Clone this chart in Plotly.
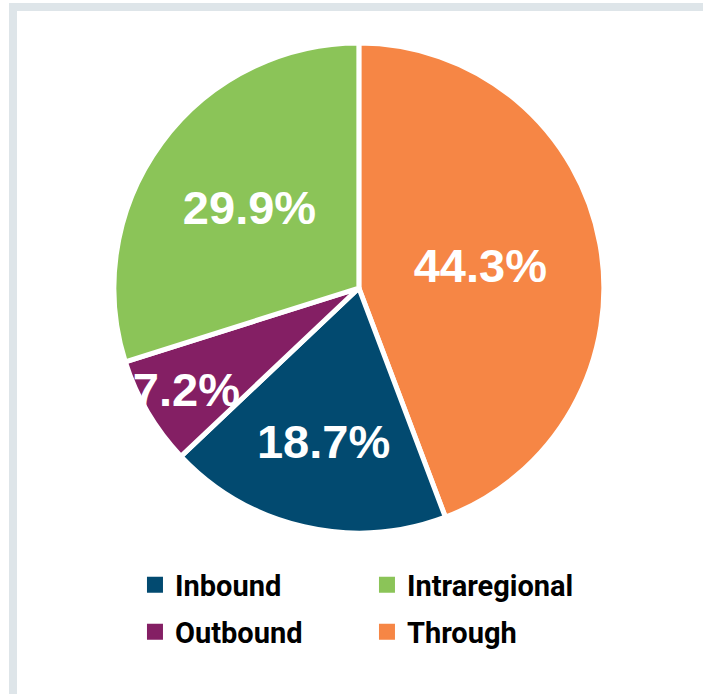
import plotly.graph_objects as go

# slice order, clockwise from 12 o'clock
slice_labels = ["Through", "Inbound", "Outbound", "Intraregional"]
slice_values = [44.3, 18.7, 7.2, 29.9]
slice_text = ["44.3%", "18.7%", "7.2%", "29.9%"]

# legend rows
legend_row1 = ["Inbound", "Intraregional"]
legend_row2 = ["Outbound", "Through"]

colors = {
    "Through": "#f68645",
    "Inbound": "#024a70",
    "Outbound": "#841f64",
    "Intraregional": "#8bc458",
}

fig = go.Figure()

fig.add_trace(go.Pie(
    labels=slice_labels,
    values=slice_values,
    text=slice_text,
    textinfo="text",
    textposition="inside",
    insidetextorientation="horizontal",
    sort=False,
    direction="clockwise",
    rotation=0,
    marker=dict(colors=[colors[l] for l in slice_labels],
                line=dict(color="white", width=5)),
    textfont=dict(family="Liberation Sans", size=47, color="white", weight="bold"),
    showlegend=False,
    hoverinfo="label+percent",
    domain=dict(x=[0.161, 0.860], y=[0.232, 0.938]),
))

# dummy traces for the two-row legend
for legend_id, names in [("legend", legend_row1), ("legend2", legend_row2)]:
    for name in names:
        fig.add_trace(go.Scatter(
            x=[None], y=[None], mode="markers", name=name,
            legend=legend_id,
            marker=dict(symbol="square", size=20, color=colors[name]),
        ))

legend_style = dict(
    orientation="h",
    x=0.192, xanchor="left",
    yanchor="middle",
    entrywidth=187, entrywidthmode="pixels",
    font=dict(family="Roboto", size=29, color="black", weight="bold"),
    itemclick=False,
)

fig.update_layout(
    width=703, height=694,
    margin=dict(l=0, r=0, t=0, b=0),
    paper_bgcolor="white",
    plot_bgcolor="white",
    xaxis=dict(visible=False),
    yaxis=dict(visible=False),
    uniformtext=dict(minsize=47, mode="show"),
    legend=dict(legend_style, y=1 - 585 / 694),
    legend2=dict(legend_style, y=1 - 632 / 694),
    shapes=[
        dict(type="rect", xref="paper", yref="paper",
             x0=9 / 703, x1=1, y0=1 - 11 / 694, y1=1 - 3 / 694,
             fillcolor="#dee5e9", line=dict(width=0), layer="below"),
        dict(type="rect", xref="paper", yref="paper",
             x0=9 / 703, x1=17 / 703, y0=0, y1=1 - 3 / 694,
             fillcolor="#dee5e9", line=dict(width=0), layer="below"),
    ],
)

fig.write_html("out.html", config={"displayModeBar": False},
               post_script="document.body.style.margin='0px';")
